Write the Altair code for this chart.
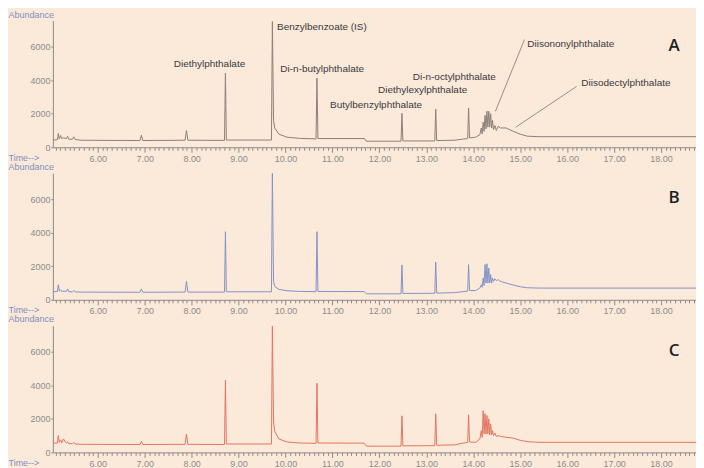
import altair as alt
import pandas as pd

# retention time grid (min)
rt = [5.05, 5.14, 5.16, 5.18, 5.21, 5.23, 5.27, 5.33, 5.36, 5.38, 5.46, 5.49, 5.52, 5.65,
      6.90, 6.93, 6.96, 7.86, 7.89, 7.92, 8.70, 8.72, 8.74, 9.70, 9.72, 9.745, 9.77, 9.86,
      10.03, 10.30, 10.65, 10.67, 10.69, 11.68, 11.72, 12.46, 12.48, 12.50, 13.18, 13.20,
      13.22, 13.60, 13.88, 13.90, 13.92, 14.05, 14.14, 14.17, 14.19, 14.21, 14.23, 14.25,
      14.27, 14.29, 14.31, 14.33, 14.35, 14.37, 14.39, 14.41, 14.43, 14.46, 14.49, 14.53,
      14.58, 14.70, 14.85, 15.00, 15.15, 15.40, 18.75]

abund_A = [430, 450, 820, 500, 700, 520, 560, 520, 650, 480, 480, 620, 460, 420,
           400, 720, 400, 420, 1000, 420, 410, 4420, 430, 430, 7500, 1600, 1150, 780,
           600, 530, 500, 4120, 520, 520, 360, 360, 2030, 380, 380, 2270,
           400, 420, 520, 2330, 560, 600, 750, 1150, 800, 1500, 950, 1900,
           1100, 2150, 1200, 2150, 1200, 2000, 1150, 1600, 1050, 1300, 1000, 1250,
           1150, 1150, 950, 780, 660, 630, 630]

abund_B = [480, 490, 900, 520, 600, 500, 520, 500, 650, 480, 480, 560, 470, 460,
           450, 650, 450, 460, 1100, 460, 460, 4060, 480, 480, 7550, 1100, 800, 620,
           540, 500, 490, 4060, 500, 490, 360, 360, 2080, 380, 390, 2250,
           400, 430, 520, 2100, 560, 550, 700, 900, 750, 1300, 850, 2100,
           1000, 2150, 1000, 1900, 1000, 1500, 1000, 1300, 1100, 1250, 1150, 1200,
           1100, 1000, 880, 780, 720, 700, 700]

abund_C = [550, 560, 1000, 600, 750, 560, 800, 560, 620, 520, 520, 600, 500, 480,
           470, 650, 470, 480, 1090, 480, 470, 4300, 500, 500, 7550, 1800, 1250, 800,
           620, 560, 540, 4120, 560, 550, 370, 370, 2180, 390, 400, 2300,
           420, 450, 600, 2240, 620, 600, 800, 1300, 900, 2480, 1100, 2300,
           1100, 2200, 1100, 2000, 1050, 1700, 1050, 1300, 1000, 1150, 950, 1000,
           950, 900, 850, 720, 640, 600, 600]

# compound labels (panel A)
lab_text = ["Diethylphthalate", "Benzylbenzoate (IS)", "Di-n-butylphthalate",
            "Butylbenzylphthalate", "Diethylexylphthalate", "Di-n-octylphthalate",
            "Diisononylphthalate", "Diisodectylphthalate"]
lab_t = [8.38, 9.82, 9.89, 10.95, 11.97, 12.71, 15.15, 16.30]
lab_v = [4935, 7194, 4637, 2497, 3389, 4162, 6183, 3805]
lab_align = ["center", "left", "left", "left", "left", "left", "left", "left"]

# leader lines
lead_t1 = [15.09, 16.20]
lead_v1 = [6421, 3627]
lead_t2 = [14.47, 14.90]
lead_v2 = [2140, 1189]

y_ticks = [0, 2000, 4000, 6000]
x_minor = [round(5.1 + 0.1 * i, 1) for i in range(137)]

panels = ["A", "B", "C"]
colors = ["#8d8079", "#8494c6", "#e27561"]
series = [abund_A, abund_B, abund_C]
title_offsets = [-6, -7, -7]

BG = "#fbe9da"
TXT_BLUE = "#7f8fbf"
AX_GREY = "#8e8a88"

x_scale = alt.Scale(domain=[5.044, 18.744], nice=False, zero=False)
y_scale = alt.Scale(domain=[0, 7550], nice=False, zero=False)


def make_panel(letter, color, vals, with_labels, ty):
    df = pd.DataFrame({"t": rt, "v": vals})
    x_axis = alt.Axis(
        values=x_minor,
        labelExpr="datum.value % 1 === 0 ? format(datum.value, '.2f') : ''",
        tickSize={"condition": {"test": "datum.value % 1 === 0", "value": 5}, "value": 3},
        labelOverlap=False, labelFlush=False, labelPadding=2,
        labelFont="Liberation Sans", labelFontSize=9, labelColor="#8c8c8c",
        domainColor=AX_GREY, tickColor=AX_GREY, grid=False,
        title="Time-->", titleAngle=0, titleX=-45, titleY=10, titleAlign="left",
        titleBaseline="middle", titleFont="Liberation Sans", titleFontSize=9,
        titleFontWeight="normal", titleColor=TXT_BLUE,
    )
    y_axis = alt.Axis(
        values=y_ticks, format="d", tickSize=2, labelPadding=1,
        labelFont="Liberation Sans", labelFontSize=9, labelColor="#8c8c8c",
        domainColor=AX_GREY, tickColor=AX_GREY, grid=False,
        title="Abundance", titleAngle=0, titleX=-45, titleY=ty, titleAlign="left",
        titleBaseline="middle", titleFont="Liberation Sans", titleFontSize=9,
        titleFontWeight="normal", titleColor=TXT_BLUE,
    )
    line = alt.Chart(df).mark_line(color=color, strokeWidth=1, clip=True).encode(
        x=alt.X("t:Q", scale=x_scale, axis=x_axis),
        y=alt.Y("v:Q", scale=y_scale, axis=y_axis),
    )
    letter_mark = alt.Chart(pd.DataFrame({"p": [letter]})).mark_text(
        font="Open Sans", fontSize=17, fontWeight=600, color="#1e1e1e",
        align="center", baseline="middle",
    ).encode(text="p:N", x=alt.value(623), y=alt.value(25))
    layers = [line, letter_mark]
    if with_labels:
        ldf = pd.DataFrame({"t": lab_t, "v": lab_v, "s": lab_text, "a": lab_align})
        for al in ["center", "left"]:
            layers.append(
                alt.Chart(ldf).transform_filter(alt.datum.a == al).mark_text(
                    font="Liberation Sans Narrow, Liberation Sans, sans-serif",
                    fontSize=10, color="#3a3a3a", align=al, baseline="middle",
                ).encode(
                    x=alt.X("t:Q", scale=x_scale, axis=None),
                    y=alt.Y("v:Q", scale=y_scale, axis=None),
                    text="s:N",
                )
            )
        rdf = pd.DataFrame({"t1": lead_t1, "v1": lead_v1, "t2": lead_t2, "v2": lead_v2})
        layers.append(
            alt.Chart(rdf).mark_rule(color="#9a8f88", strokeWidth=1).encode(
                x=alt.X("t1:Q", scale=x_scale, axis=None),
                y=alt.Y("v1:Q", scale=y_scale, axis=None),
                x2="t2:Q", y2="v2:Q",
            )
        )
    lay = alt.layer(*layers).properties(width=645, height=127)
    if with_labels:
        lay = lay.resolve_axis(x="independent", y="independent")
    return lay


charts = [make_panel(p, c, s, i == 0, ty)
          for i, (p, c, s, ty) in enumerate(zip(panels, colors, series, title_offsets))]

chart = alt.vconcat(*charts, spacing=26, bounds="flush").properties(
    background=BG,
    padding={"left": 0, "top": 2, "right": 0, "bottom": 0},
).configure_view(stroke=None)

chart.save("out.html", embed_options={"renderer": "svg", "actions": False})
